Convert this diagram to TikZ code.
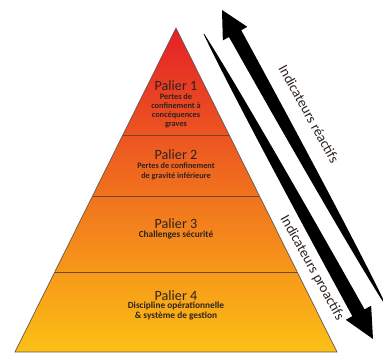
\documentclass[tikz,border=0pt]{standalone}
\usepackage{fontspec}
\setmainfont{Carlito}
\usetikzlibrary{calc}
\definecolor{pTop}{RGB}{229,32,40}
\definecolor{pMid}{RGB}{240,122,35}
\definecolor{pBot}{RGB}{252,192,20}
\definecolor{txt}{RGB}{45,35,30}
\definecolor{divc}{RGB}{120,70,35}
\definecolor{edgec}{RGB}{95,85,80}
\begin{document}
\begin{tikzpicture}[x=0.75pt,y=-0.75pt,
  title/.style={font=\fontsize{10.6}{12}\selectfont, text=txt, inner sep=0pt},
  subA/.style={font=\bfseries\fontsize{6.2}{6.75}\selectfont, text=txt, align=center, inner sep=0pt},
  subB/.style={font=\bfseries\fontsize{7}{7.5}\selectfont, text=txt, align=center, inner sep=0pt},
  side/.style={font=\fontsize{10.7}{12}\selectfont, text=txt, inner sep=0pt, rotate=-61},
  divider/.style={draw=divc, line width=0.6pt},
  outline/.style={draw=edgec, line width=0.5pt},
  arrowfill/.style={fill=black}]
\useasboundingbox (0,0) rectangle (383,356);
\clip (0,0) rectangle (383,356);
% pyramid
\coordinate (apex) at (176,28);
\coordinate (bl) at (15,352);
\coordinate (br) at (337,352);
\shade[top color=pTop, middle color=pMid, bottom color=pBot] (apex) -- (br) -- (bl) -- cycle;
\coordinate (d1l) at ($(apex)!{107/324}!(bl)$);
\coordinate (d1r) at ($(apex)!{107/324}!(br)$);
\coordinate (d2l) at ($(apex)!{168/324}!(bl)$);
\coordinate (d2r) at ($(apex)!{168/324}!(br)$);
\coordinate (d3l) at ($(apex)!{244/324}!(bl)$);
\coordinate (d3r) at ($(apex)!{244/324}!(br)$);
\draw[divider] (d1l) -- (d1r);
\draw[divider] (d2l) -- (d2r);
\draw[divider] (d3l) -- (d3r);
\draw[outline] (apex) -- (br) -- (bl) -- cycle;
% texts
\node[title] (p1) at (176,86) {Palier 1};
\node[subA] (s1) at (176,110.5) {Pertes de\\confinement à\\concéquences\\graves};
\node[title] (p2) at (176,155) {Palier 2};
\node[subA, font=\bfseries\fontsize{6.2}{7.5}\selectfont] (s2) at (176,171) {Pertes de confinement\\de gravité inférieure};
\node[title] (p3) at (176,224) {Palier 3};
\node[subB] (s3) at (176,235) {Challenges sécurité};
\node[title] (p4) at (176,296) {Palier 4};
\node[subB] (s4) at (176,311) {Discipline opérationnelle\\\& système de gestion};
% arrow: reactive (head at top)
\begin{scope}[shift={(222,10)}, rotate=-61]
  \fill[arrowfill] (0,0) -- (27,14) -- (27,7) .. controls (180,6) and (300,3) .. (338,0.3)
    -- (338,-0.3) .. controls (300,-3) and (180,-6) .. (27,-7) -- (27,-14) -- cycle;
\end{scope}
% arrow: proactive (head at bottom)
\begin{scope}[shift={(373,339)}, rotate=119]
  \fill[arrowfill] (0,0) -- (30,14.5) -- (30,7) .. controls (190,6) and (310,3) .. (349,0.3)
    -- (349,-0.3) .. controls (310,-3) and (190,-6) .. (30,-7) -- (30,-14.5) -- cycle;
\end{scope}
\node[side] (ra) at (309,114) {Indicateurs réactifs};
\node[side] (pa) at (312,268) {Indicateurs proactifs};
\end{tikzpicture}
\end{document}
